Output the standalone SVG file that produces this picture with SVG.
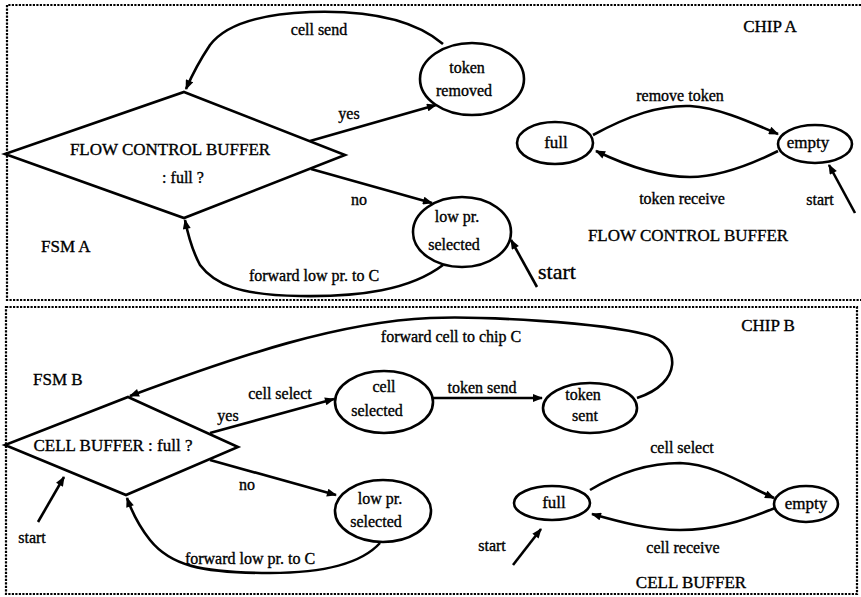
<svg xmlns="http://www.w3.org/2000/svg" width="861" height="597" viewBox="0 0 861 597">
  <style>
    .frame { fill: none; stroke: #000; stroke-width: 2.2; stroke-dasharray: 2.2 1.3; }
    .shape { fill: #fff; stroke: #000; stroke-width: 2.6; }
    .edge { fill: none; stroke: #000; stroke-width: 2.6; marker-end: url(#tip); }
    text { font-family: "Liberation Serif", "Times New Roman", serif; fill: #000; stroke: #000; stroke-width: 0.35; }
    .lbl { font-size: 16px; text-anchor: middle; }
    .big { font-size: 17px; }
    .mid { text-anchor: middle; }
  </style>
  <defs>
    <marker id="tip" viewBox="0 0 10 8" refX="9" refY="4" markerWidth="11" markerHeight="8" markerUnits="userSpaceOnUse" orient="auto">
      <path d="M0,0 L10,4 L0,8 z" fill="#000"/>
    </marker>
  </defs>
  <rect width="861" height="597" fill="#fff"/>

  <!-- chip frames -->
  <g id="frames">
    <path class="frame" d="M861,5 H7 V300 H861"/>
    <rect class="frame" x="6" y="307" width="851" height="287"/>
  </g>

  <!-- connectors -->
  <g id="connectors">
    <!-- FSM A -->
    <path class="edge" d="M443,44 C415,20 370,10 310,12 C260,14 225,25 210,45 C200,60 192,75 186,89"/>
    <path class="edge" d="M310,141 L436,105"/>
    <path class="edge" d="M311,169 L432,203"/>
    <path class="edge" d="M443,265 C410,290 360,297 300,296 C240,295 215,285 200,265 C192,250 188,235 185,220"/>
    <path class="edge" d="M537,287 L511,240"/>
    <!-- flow control buffer A -->
    <path class="edge" d="M593,135 C630,115 660,105 690,106 C720,108 750,122 778,134"/>
    <path class="edge" d="M778,151 C750,165 720,177 690,177 C660,177 625,165 596,151"/>
    <path class="edge" d="M855,213 L829,165"/>
    <!-- FSM B -->
    <path class="edge" d="M637,398 C683,383 681,345 648,335 C600,322 480,316 430,318 C340,322 240,355 130,396"/>
    <path class="edge" d="M210,433 L334,399"/>
    <path class="edge" d="M432,398 L542,398"/>
    <path class="edge" d="M210,460 L336,495"/>
    <path class="edge" d="M380,543 C360,565 320,573 270,573 C200,573 170,565 150,540 C138,525 132,512 127,498"/>
    <path class="edge" d="M38,522 L64,477"/>
    <!-- cell buffer B -->
    <path class="edge" d="M590,490 C620,472 650,463 680,463 C715,464 745,485 774,498"/>
    <path class="edge" d="M775,508 C745,520 715,530 680,530 C650,530 620,522 592,514"/>
    <path class="edge" d="M513,565 L541,529"/>
  </g>

  <!-- FSM A nodes -->
  <g id="fc-decision">
    <polygon class="shape" points="184,92 345,155 184,218 5,154"/>
    <text class="big mid" x="170" y="155">FLOW CONTROL BUFFER</text>
    <text class="lbl" x="183" y="183">: full ?</text>
  </g>
  <g id="token-removed">
    <ellipse class="shape" cx="472" cy="79" rx="52" ry="36"/>
    <text class="lbl" x="467" y="73">token</text>
    <text class="lbl" x="464" y="96">removed</text>
  </g>
  <g id="low-pr-a">
    <ellipse class="shape" cx="462" cy="232" rx="49" ry="35"/>
    <text class="lbl" x="457" y="222">low pr.</text>
    <text class="lbl" x="454" y="250">selected</text>
  </g>

  <!-- flow control buffer nodes -->
  <g id="fcb-full">
    <ellipse class="shape" cx="555" cy="143" rx="38" ry="21"/>
    <text class="lbl big" x="556" y="148">full</text>
  </g>
  <g id="fcb-empty">
    <ellipse class="shape" cx="815" cy="144" rx="37" ry="19"/>
    <text class="lbl big" x="808" y="148">empty</text>
  </g>

  <!-- FSM B nodes -->
  <g id="cb-decision">
    <polygon class="shape" points="128,397 238,447 126,495 5,445"/>
    <text class="big mid" x="113" y="451">CELL BUFFER : full ?</text>
  </g>
  <g id="cell-selected">
    <ellipse class="shape" cx="384" cy="402" rx="49" ry="31"/>
    <text class="lbl" x="384" y="392">cell</text>
    <text class="lbl" x="377" y="416">selected</text>
  </g>
  <g id="token-sent">
    <ellipse class="shape" cx="590" cy="408" rx="47" ry="25"/>
    <text class="lbl" x="583" y="400">token</text>
    <text class="lbl" x="585" y="421">sent</text>
  </g>
  <g id="low-pr-b">
    <ellipse class="shape" cx="383" cy="511" rx="48" ry="31"/>
    <text class="lbl" x="380" y="504">low pr.</text>
    <text class="lbl" x="376" y="527">selected</text>
  </g>

  <!-- cell buffer nodes -->
  <g id="cb-full">
    <ellipse class="shape" cx="552" cy="503" rx="38" ry="17"/>
    <text class="lbl big" x="554" y="508">full</text>
  </g>
  <g id="cb-empty">
    <ellipse class="shape" cx="806" cy="504" rx="32" ry="18"/>
    <text class="lbl big" x="806" y="509">empty</text>
  </g>

  <!-- edge labels and titles -->
  <g id="labels">
    <text class="lbl" x="319" y="35">cell send</text>
    <text class="lbl" x="349" y="119">yes</text>
    <text class="lbl" x="359" y="205">no</text>
    <text class="big" x="41" y="252">FSM A</text>
    <text class="lbl" x="314" y="281">forward low pr. to C</text>
    <text x="538" y="279" font-size="22" stroke-width="0.2">start</text>
    <text class="big mid" x="770" y="32">CHIP A</text>
    <text class="lbl" x="680" y="101">remove token</text>
    <text class="lbl" x="682" y="204">token receive</text>
    <text class="lbl" x="820" y="205">start</text>
    <text class="big mid" x="688" y="241">FLOW CONTROL BUFFER</text>

    <text class="big" x="33" y="385">FSM B</text>
    <text class="lbl" x="280" y="399">cell select</text>
    <text class="lbl" x="228" y="421">yes</text>
    <text class="lbl" x="482" y="393">token send</text>
    <text class="lbl" x="451" y="342">forward cell to chip C</text>
    <text class="big mid" x="768" y="331">CHIP B</text>
    <text class="lbl" x="247" y="490">no</text>
    <text class="lbl" x="32" y="543">start</text>
    <text class="lbl" x="250" y="564">forward low pr. to C</text>
    <text class="lbl" x="682" y="453">cell select</text>
    <text class="lbl" x="683" y="553">cell receive</text>
    <text class="lbl" x="492" y="551">start</text>
    <text class="big mid" x="691" y="588">CELL BUFFER</text>
  </g>
</svg>
